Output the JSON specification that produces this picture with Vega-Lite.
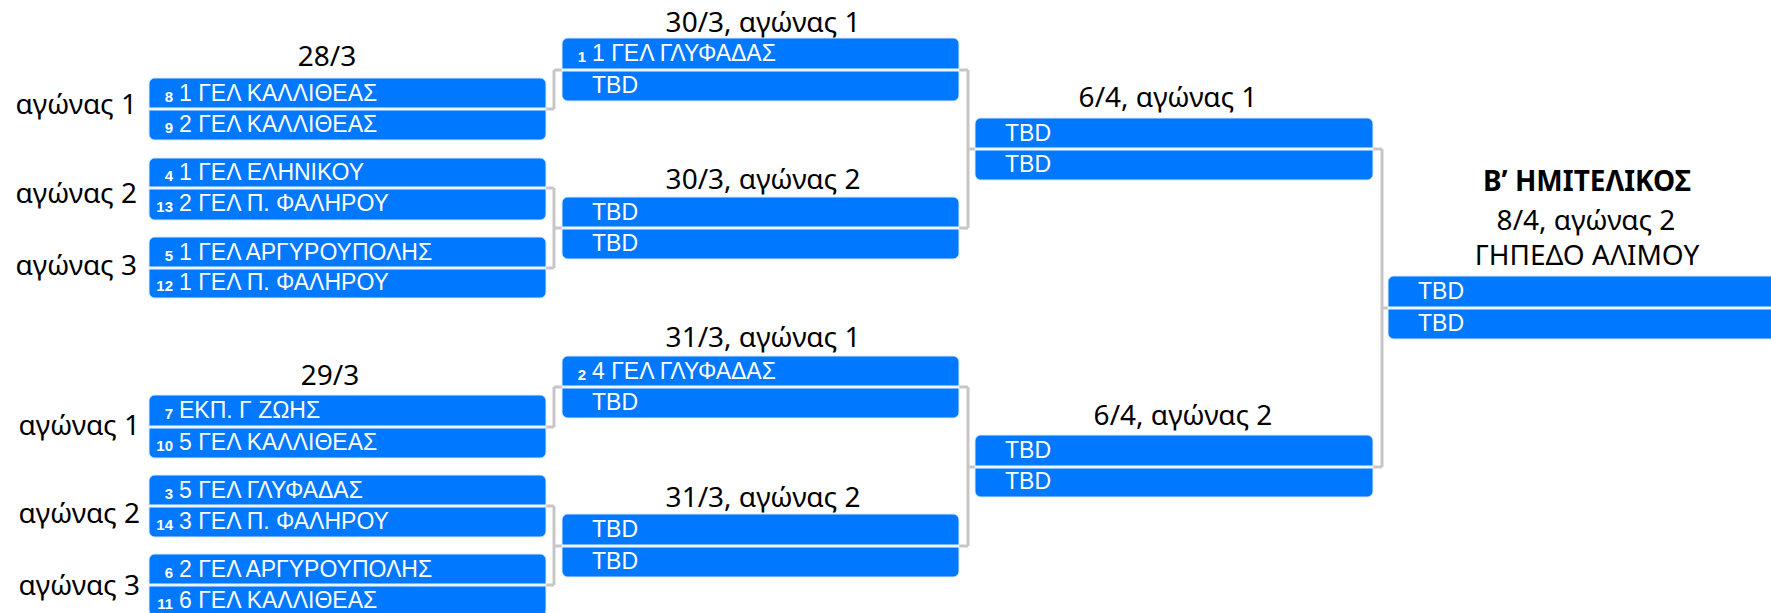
{
  "$schema": "https://vega.github.io/schema/vega-lite/v6.json",
  "width": 1771,
  "height": 613,
  "padding": 0,
  "autosize": {"type": "fit", "contains": "padding"},
  "background": "white",
  "config": {"view": {"stroke": null}},
  "datasets": {
    "matches": [
      {"round": 1, "x0": 149, "x1": 546, "top": 78, "mid": 109, "bottom": 140},
      {"round": 1, "x0": 149, "x1": 546, "top": 158, "mid": 188, "bottom": 220},
      {"round": 1, "x0": 149, "x1": 546, "top": 237, "mid": 268, "bottom": 298},
      {"round": 1, "x0": 149, "x1": 546, "top": 395, "mid": 427, "bottom": 458},
      {"round": 1, "x0": 149, "x1": 546, "top": 475, "mid": 506, "bottom": 537},
      {"round": 1, "x0": 149, "x1": 546, "top": 554, "mid": 585, "bottom": 616},
      {"round": 2, "x0": 562, "x1": 959, "top": 38, "mid": 70, "bottom": 101},
      {"round": 2, "x0": 562, "x1": 959, "top": 197, "mid": 228, "bottom": 259},
      {"round": 2, "x0": 562, "x1": 959, "top": 356, "mid": 387, "bottom": 418},
      {"round": 2, "x0": 562, "x1": 959, "top": 514, "mid": 546, "bottom": 577},
      {"round": 3, "x0": 975, "x1": 1373, "top": 118, "mid": 149, "bottom": 180},
      {"round": 3, "x0": 975, "x1": 1373, "top": 435, "mid": 467, "bottom": 497},
      {"round": 4, "x0": 1388, "x1": 1800, "top": 276, "mid": 308, "bottom": 339}
    ],
    "teams": [
      {"x0": 149, "y": 93.5, "seed": "8", "team": "1 ΓΕΛ ΚΑΛΛΙΘΕΑΣ"},
      {"x0": 149, "y": 124.5, "seed": "9", "team": "2 ΓΕΛ ΚΑΛΛΙΘΕΑΣ"},
      {"x0": 149, "y": 173, "seed": "4", "team": "1 ΓΕΛ ΕΛΗΝΙΚΟΥ"},
      {"x0": 149, "y": 204, "seed": "13", "team": "2 ΓΕΛ Π. ΦΑΛΗΡΟΥ"},
      {"x0": 149, "y": 252.5, "seed": "5", "team": "1 ΓΕΛ ΑΡΓΥΡΟΥΠΟΛΗΣ"},
      {"x0": 149, "y": 283, "seed": "12", "team": "1 ΓΕΛ Π. ΦΑΛΗΡΟΥ"},
      {"x0": 149, "y": 411, "seed": "7", "team": "ΕΚΠ. Γ ΖΩΗΣ"},
      {"x0": 149, "y": 442.5, "seed": "10", "team": "5 ΓΕΛ ΚΑΛΛΙΘΕΑΣ"},
      {"x0": 149, "y": 490.5, "seed": "3", "team": "5 ΓΕΛ ΓΛΥΦΑΔΑΣ"},
      {"x0": 149, "y": 521.5, "seed": "14", "team": "3 ΓΕΛ Π. ΦΑΛΗΡΟΥ"},
      {"x0": 149, "y": 569.5, "seed": "6", "team": "2 ΓΕΛ ΑΡΓΥΡΟΥΠΟΛΗΣ"},
      {"x0": 149, "y": 600.5, "seed": "11", "team": "6 ΓΕΛ ΚΑΛΛΙΘΕΑΣ"},
      {"x0": 562, "y": 54, "seed": "1", "team": "1 ΓΕΛ ΓΛΥΦΑΔΑΣ"},
      {"x0": 562, "y": 85.5, "seed": "", "team": "TBD"},
      {"x0": 562, "y": 212.5, "seed": "", "team": "TBD"},
      {"x0": 562, "y": 243.5, "seed": "", "team": "TBD"},
      {"x0": 562, "y": 371.5, "seed": "2", "team": "4 ΓΕΛ ΓΛΥΦΑΔΑΣ"},
      {"x0": 562, "y": 402.5, "seed": "", "team": "TBD"},
      {"x0": 562, "y": 530, "seed": "", "team": "TBD"},
      {"x0": 562, "y": 561.5, "seed": "", "team": "TBD"},
      {"x0": 975, "y": 133.5, "seed": "", "team": "TBD"},
      {"x0": 975, "y": 164.5, "seed": "", "team": "TBD"},
      {"x0": 975, "y": 451, "seed": "", "team": "TBD"},
      {"x0": 975, "y": 482, "seed": "", "team": "TBD"},
      {"x0": 1388, "y": 292, "seed": "", "team": "TBD"},
      {"x0": 1388, "y": 323.5, "seed": "", "team": "TBD"}
    ],
    "links": [
      {"x": 546, "x2": 554, "y": 109, "y2": 109},
      {"x": 554, "x2": 554, "y": 70, "y2": 109},
      {"x": 554, "x2": 562, "y": 70, "y2": 70},
      {"x": 546, "x2": 554, "y": 188, "y2": 188},
      {"x": 546, "x2": 554, "y": 268, "y2": 268},
      {"x": 554, "x2": 554, "y": 188, "y2": 268},
      {"x": 554, "x2": 562, "y": 228, "y2": 228},
      {"x": 546, "x2": 554, "y": 427, "y2": 427},
      {"x": 554, "x2": 554, "y": 387, "y2": 427},
      {"x": 554, "x2": 562, "y": 387, "y2": 387},
      {"x": 546, "x2": 554, "y": 506, "y2": 506},
      {"x": 546, "x2": 554, "y": 585, "y2": 585},
      {"x": 554, "x2": 554, "y": 506, "y2": 585},
      {"x": 554, "x2": 562, "y": 546, "y2": 546},
      {"x": 959, "x2": 968, "y": 70, "y2": 70},
      {"x": 959, "x2": 968, "y": 228, "y2": 228},
      {"x": 968, "x2": 968, "y": 70, "y2": 228},
      {"x": 968, "x2": 975, "y": 149, "y2": 149},
      {"x": 959, "x2": 968, "y": 387, "y2": 387},
      {"x": 959, "x2": 968, "y": 546, "y2": 546},
      {"x": 968, "x2": 968, "y": 387, "y2": 546},
      {"x": 968, "x2": 975, "y": 467, "y2": 467},
      {"x": 1373, "x2": 1382, "y": 149, "y2": 149},
      {"x": 1373, "x2": 1382, "y": 467, "y2": 467},
      {"x": 1382, "x2": 1382, "y": 149, "y2": 467},
      {"x": 1382, "x2": 1388, "y": 308, "y2": 308}
    ],
    "sideLabels": [
      {"x": 137, "y": 106, "text": "αγώνας 1"},
      {"x": 137, "y": 195, "text": "αγώνας 2"},
      {"x": 137, "y": 267, "text": "αγώνας 3"},
      {"x": 140, "y": 427, "text": "αγώνας 1"},
      {"x": 140, "y": 515, "text": "αγώνας 2"},
      {"x": 140, "y": 587, "text": "αγώνας 3"}
    ],
    "dateLabels": [
      {"x": 327, "y": 58, "text": "28/3"},
      {"x": 330, "y": 377, "text": "29/3"},
      {"x": 763, "y": 24, "text": "30/3, αγώνας 1"},
      {"x": 763, "y": 181, "text": "30/3, αγώνας 2"},
      {"x": 763, "y": 339, "text": "31/3, αγώνας 1"},
      {"x": 763, "y": 499, "text": "31/3, αγώνας 2"},
      {"x": 1168, "y": 99, "text": "6/4, αγώνας 1"},
      {"x": 1183, "y": 417, "text": "6/4, αγώνας 2"},
      {"x": 1586, "y": 222, "text": "8/4, αγώνας 2"},
      {"x": 1587, "y": 257, "text": "ΓΗΠΕΔΟ ΑΛΙΜΟΥ"}
    ],
    "titleLabels": [
      {"x": 1587, "y": 183, "text": "Β’ ΗΜΙΤΕΛΙΚΟΣ"}
    ]
  },
  "layer": [
    {
      "data": {"name": "links"},
      "mark": {"type": "rule", "color": "#c6c6c6", "strokeWidth": 3},
      "encoding": {
        "x": {"field": "x", "type": "quantitative", "axis": null, "scale": {"domain": [0, 1771], "nice": false, "zero": false}},
        "x2": {"field": "x2"},
        "y": {"field": "y", "type": "quantitative", "axis": null, "scale": {"domain": [0, 613], "nice": false, "zero": false, "reverse": true}},
        "y2": {"field": "y2"}
      }
    },
    {
      "data": {"name": "matches"},
      "mark": {"type": "rect", "color": "#0078ff", "cornerRadius": 6, "clip": true, "stroke": "#d6e8ff", "strokeWidth": 1},
      "encoding": {
        "x": {"field": "x0", "type": "quantitative", "axis": null, "scale": {"domain": [0, 1771], "nice": false, "zero": false}},
        "x2": {"field": "x1"},
        "y": {"field": "top", "type": "quantitative", "axis": null, "scale": {"domain": [0, 613], "nice": false, "zero": false, "reverse": true}},
        "y2": {"field": "bottom"}
      }
    },
    {
      "data": {"name": "matches"},
      "mark": {"type": "rule", "color": "#eef5ff", "strokeWidth": 3, "clip": true},
      "encoding": {
        "x": {"field": "x0", "type": "quantitative", "axis": null},
        "x2": {"field": "x1"},
        "y": {"field": "mid", "type": "quantitative", "axis": null}
      }
    },
    {
      "data": {"name": "teams"},
      "mark": {"type": "text", "color": "white", "font": "Liberation Sans", "fontSize": 23, "align": "left", "baseline": "alphabetic", "dx": 30, "dy": 7},
      "encoding": {
        "x": {"field": "x0", "type": "quantitative", "axis": null},
        "y": {"field": "y", "type": "quantitative", "axis": null},
        "text": {"field": "team"}
      }
    },
    {
      "data": {"name": "teams"},
      "mark": {"type": "text", "color": "white", "font": "Liberation Sans", "fontSize": 15, "fontWeight": "bold", "align": "right", "baseline": "alphabetic", "dx": 24, "dy": 8},
      "encoding": {
        "x": {"field": "x0", "type": "quantitative", "axis": null},
        "y": {"field": "y", "type": "quantitative", "axis": null},
        "text": {"field": "seed"}
      }
    },
    {
      "data": {"name": "sideLabels"},
      "mark": {"type": "text", "color": "black", "font": "Noto Sans", "fontSize": 28, "align": "right", "baseline": "middle"},
      "encoding": {
        "x": {"field": "x", "type": "quantitative", "axis": null},
        "y": {"field": "y", "type": "quantitative", "axis": null},
        "text": {"field": "text"}
      }
    },
    {
      "data": {"name": "dateLabels"},
      "mark": {"type": "text", "color": "black", "font": "Noto Sans", "fontSize": 28, "align": "center", "baseline": "middle"},
      "encoding": {
        "x": {"field": "x", "type": "quantitative", "axis": null},
        "y": {"field": "y", "type": "quantitative", "axis": null},
        "text": {"field": "text"}
      }
    },
    {
      "data": {"name": "titleLabels"},
      "mark": {"type": "text", "color": "black", "font": "Noto Sans", "fontSize": 28, "fontWeight": "bold", "align": "center", "baseline": "middle"},
      "encoding": {
        "x": {"field": "x", "type": "quantitative", "axis": null},
        "y": {"field": "y", "type": "quantitative", "axis": null},
        "text": {"field": "text"}
      }
    }
  ]
}
